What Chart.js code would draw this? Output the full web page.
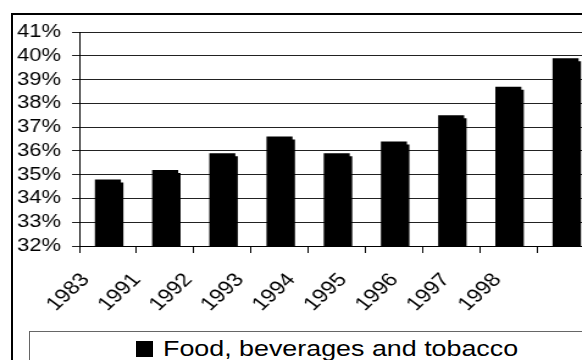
<!DOCTYPE html>
<html>
<head>
<meta charset="utf-8">
<script src="https://cdn.jsdelivr.net/npm/chart.js@4.4.0/dist/chart.umd.min.js"></script>
<style>
    html, body { margin: 0; padding: 0; width: 582px; height: 360px; overflow: hidden; background: #fff; font-family: "Liberation Sans", Arial, sans-serif; }
    #frame { position: absolute; left: 11px; top: 13px; width: 700px; height: 400px; border: 2px solid #000; }
    /* the original picture is stretched sideways, so the chart is too */
    #wrap { position: absolute; left: 0; top: 0; width: 520px; height: 330px; transform: scaleX(1.22); transform-origin: 0 0; }
    #legendBox { position: absolute; left: 29px; top: 331px; width: 700px; height: 100px; border: 1px solid #666; }
    #legendKey { position: absolute; left: 136px; top: 341px; width: 17px; height: 16px; background: #000; }
    #legendText { position: absolute; left: 163px; top: 338px; font-size: 22px; line-height: 22px; color: #000; white-space: nowrap; transform: scaleX(1.22); transform-origin: 0 0; }
</style>
</head>
<body>
<div id="frame"></div>
<div id="wrap"><canvas id="chart" width="520" height="330"></canvas></div>
<div id="legendBox"></div>
<div id="legendKey"></div>
<div id="legendText"></div>

<script>
// DATOS
const years = ['1983', '1991', '1992', '1993', '1994', '1995', '1996', '1997', '1998'];
const foodShare = [34.8, 35.2, 35.9, 36.6, 35.9, 36.4, 37.5, 38.7, 39.9];
const seriesName = 'Food, beverages and tobacco';
const yMin = 32;
const yMax = 41;
// in the picture the year labels sit on a tighter pitch than the bars (one slot more)
const yearLabels = years.concat(['']);

const tickFont = { family: '"Liberation Sans", Arial, sans-serif', size: 18 };

// SOMBRA DE LAS BARRAS
const barShadow = {
    id: 'barShadow',
    beforeDatasetsDraw(chart) {
        const ctx = chart.ctx;
        ctx.save();
        ctx.shadowColor = '#000';
        ctx.shadowOffsetX = 2;
        ctx.shadowOffsetY = 3;
        ctx.shadowBlur = 0;
    },
    afterDatasetsDraw(chart) {
        chart.ctx.restore();
    }
};

const chart = new Chart(document.getElementById('chart').getContext('2d'), {
    type: 'bar',
    data: {
        labels: years,
        datasets: [{
            label: seriesName,
            data: foodShare,
            backgroundColor: '#000',
            borderWidth: 0,
            barPercentage: 0.455,
            categoryPercentage: 1
        }]
    },
    options: {
        responsive: false,
        animation: false,
        devicePixelRatio: 1,
        layout: { padding: { top: 32, right: 33, left: 0, bottom: 0 } },
        plugins: {
            legend: { display: false },
            tooltip: { enabled: false }
        },
        scales: {
            x: {
                afterFit: s => { s.height = 7; },
                grid: { drawOnChartArea: false, drawTicks: true, tickLength: 7, color: '#000', offset: true },
                border: { color: '#000', width: 1 },
                ticks: { display: false }
            },
            x2: {
                type: 'category',
                position: 'bottom',
                labels: yearLabels,
                offset: true,
                afterFit: s => { s.height = 77; },
                grid: { display: false },
                border: { display: false },
                ticks: {
                    autoSkip: false,
                    minRotation: 48,
                    maxRotation: 48,
                    color: '#000',
                    padding: 8,
                    labelOffset: -16,
                    font: { family: tickFont.family, size: 19 }
                }
            },
            y: {
                min: yMin,
                max: yMax,
                afterFit: s => { s.width = 65; },
                grid: { color: '#222', tickLength: 6 },
                border: { color: '#000', width: 1 },
                ticks: {
                    autoSkip: false,
                    stepSize: 1,
                    color: '#000',
                    padding: 9,
                    font: tickFont,
                    callback: v => v + '%'
                }
            }
        }
    },
    plugins: [barShadow]
});

document.getElementById('legendText').textContent = chart.data.datasets[0].label;
</script>
</body>
</html>
